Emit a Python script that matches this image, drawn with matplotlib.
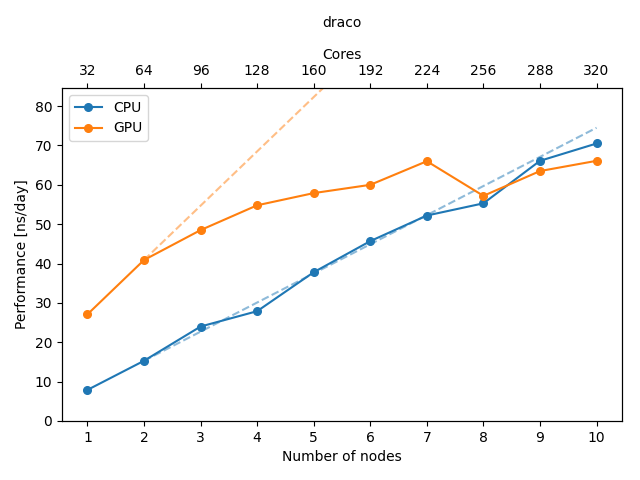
import matplotlib
matplotlib.use("Agg")
import matplotlib.pyplot as plt
import numpy as np

nodes = np.array([1, 2, 3, 4, 5, 6, 7, 8, 9, 10])
cores_per_node = 32
cpu = np.array([7.9, 15.3, 24.0, 27.9, 37.8, 45.7, 52.2, 55.3, 66.1, 70.5])
gpu = np.array([27.1, 40.9, 48.5, 54.8, 57.9, 60.0, 66.0, 57.2, 63.5, 66.1])

fig, ax = plt.subplots(figsize=(6.4, 4.8))

for name, perf, color in [("CPU", cpu, "C0"), ("GPU", gpu, "C1")]:
    ax.plot(nodes, perf, "o-", color=color, markersize=5.5, label=name)
    # extrapolation from first two points
    slope = perf[1] - perf[0]
    ax.plot(nodes[1:], perf[1] + slope * (nodes[1:] - nodes[1]), "--", color=color, alpha=0.5)

ax.set_xticks(nodes)
ax.set_ylim(0, max(cpu.max(), gpu.max()) * 1.2)
ax.set_xlabel("Number of nodes")
ax.set_ylabel("Performance [ns/day]")
ax.legend(loc="upper left")

ax2 = ax.twiny()
ax2.set_xlim(ax.get_xlim())
ax2.set_xticks(nodes)
ax2.set_xticklabels(nodes * cores_per_node)
ax2.set_xlabel("Cores")
ax2.set_title("draco", fontsize=10, pad=15)

fig.subplots_adjust(left=62 / 640, right=622 / 640, bottom=1 - 421 / 480, top=1 - 88 / 480)
fig.savefig("out.png", dpi=100)
